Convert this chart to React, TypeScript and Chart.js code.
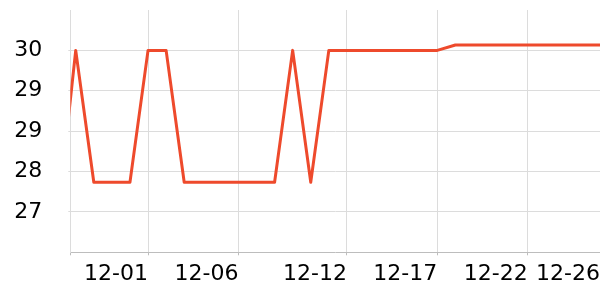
import React, { useEffect, useRef } from "react";
import { Chart, registerables } from "chart.js";

Chart.register(...registerables);

// Dates (index 0 = 11-26)
const dates = [
  "11-26", "11-27", "11-28", "11-29", "11-30",
  "12-01", "12-02", "12-03", "12-04", "12-05", "12-06", "12-07", "12-08", "12-09", "12-10",
  "12-11", "12-12", "12-13", "12-14", "12-15", "12-16", "12-17", "12-18", "12-19", "12-20",
  "12-21", "12-22", "12-23", "12-24", "12-25", "12-26",
];
const values = [
  26.9, 30, 27.55, 27.55, 27.55,
  30, 30, 27.55, 27.55, 27.55, 27.55, 27.55, 27.55, 30, 27.55,
  30, 30, 30, 30, 30, 30, 30, 30.1, 30.1, 30.1,
  30.1, 30.1, 30.1, 30.1, 30.1, 30.1,
];
const xTickDates = ["12-01", "12-06", "12-12", "12-17", "12-22", "12-26"];
const yTickValues = [27, 27.75, 28.5, 29.25, 30];
const xMin = 0.7;
const xMax = 30;
const yMin = 26.25;
const yMax = 30.75;

export default function App() {
  const ref = useRef<HTMLCanvasElement | null>(null);
  useEffect(() => {
    document.body.style.margin = "0";
    const ctx = ref.current!;
    const font = { family: "'DejaVu Sans'", size: 22 };
    const xTickIdx = xTickDates.map((d) => dates.indexOf(d));
    const chart = new Chart(ctx, {
      type: "line",
      data: {
        datasets: [
          {
            data: values.map((v, i) => ({ x: i, y: v })),
            borderColor: "#ee4a2c",
            borderWidth: 3,
            borderJoinStyle: "round",
            borderCapStyle: "round",
            pointRadius: 0,
            tension: 0,
            fill: false,
            clip: 0,
          },
        ],
      },
      options: {
        animation: false,
        responsive: false,
        layout: { padding: { top: 10, left: 0, right: 0, bottom: 0 } },
        plugins: { legend: { display: false }, tooltip: { enabled: false } },
        scales: {
          x: {
            type: "linear",
            min: xMin,
            max: xMax,
            afterBuildTicks: (s: any) => {
              s.ticks = [{ value: xMin }, ...xTickIdx.map((v) => ({ value: v }))];
            },
            afterFit: (s: any) => {
              s.height = 47.7;
              s.paddingLeft = 0;
              s.paddingRight = 0;
            },
            ticks: {
              autoSkip: false,
              maxRotation: 0,
              align: "end",
              padding: 6,
              color: "#000",
              font,
              callback: (v: any) => {
                const i = Number(v);
                return Number.isInteger(i) && dates[i] ? dates[i] : "";
              },
            },
            grid: { color: "#dcdcdc", tickColor: "#bdbdbd", tickLength: 3 },
            border: { color: "#bdbdbd", width: 1 },
          },
          y: {
            type: "linear",
            min: yMin,
            max: yMax,
            afterBuildTicks: (s: any) => {
              s.ticks = yTickValues.map((v) => ({ value: v }));
            },
            afterFit: (s: any) => {
              s.width = 70.3;
              s.paddingTop = 0;
              s.paddingBottom = 0;
            },
            ticks: {
              padding: 26,
              color: "#000",
              font,
              callback: (v: any) => Number(v).toFixed(0),
            },
            grid: { color: "#dcdcdc", tickColor: "#dcdcdc", tickLength: 2 },
            border: { color: "#dcdcdc", width: 1 },
          },
        },
      },
    });
    return () => chart.destroy();
  }, []);
  return (
    <div style={{ width: 600, height: 300 }}>
      <canvas ref={ref} width={600} height={300} style={{ display: "block" }} />
    </div>
  );
}
